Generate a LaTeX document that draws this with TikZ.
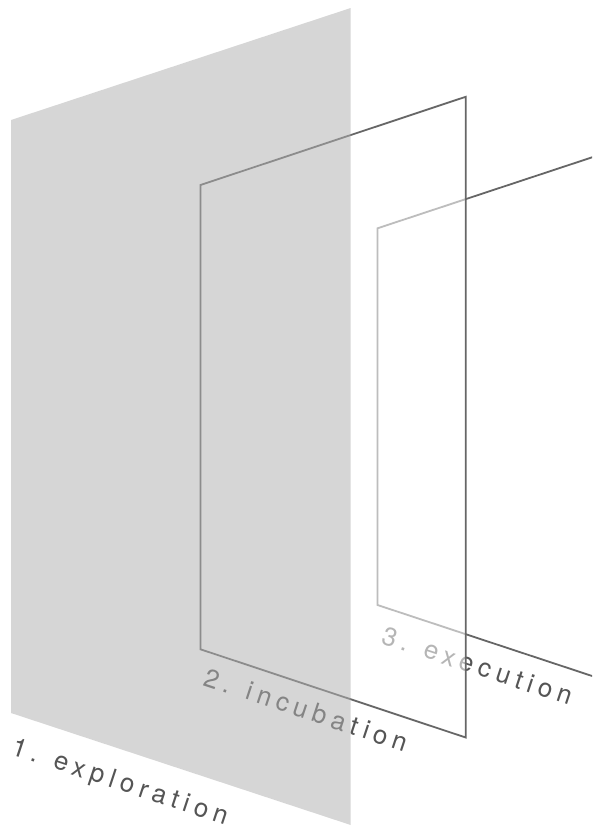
\documentclass[tikz,border=0pt]{standalone}
\usepackage{fontspec}
\setmainfont{TeX Gyre Heros}
\newfontfamily\labelfont[LetterSpace=21.5]{TeX Gyre Heros}
\definecolor{linegray}{HTML}{666666}
\definecolor{textgray}{HTML}{555555}
\definecolor{planegray}{HTML}{B0B0B0}
\begin{document}
\begin{tikzpicture}[x=1pt,y=-1pt,
  frameline/.style={draw=linegray,line width=1.8pt,line join=miter},
  lbl/.style={anchor=base west,inner sep=0pt,rotate=-18.3,text=textgray,font=\labelfont\fontsize{26}{26}\selectfont}]
\useasboundingbox (0,0) rectangle (592,827);
\clip (0,0) rectangle (592,827);
% frame 3 (back)
\coordinate (f3tr) at (600,154.7);
\coordinate (f3tl) at (377.5,228.3);
\coordinate (f3bl) at (377.5,605);
\coordinate (f3br) at (600,678.6);
\draw[frameline] (f3tr) -- (f3tl) -- (f3bl) -- (f3br);
\node[lbl] (t3) at (380,643) {3. execution};
% frame 2 (middle) with translucent white fill
\coordinate (f2tl) at (200.5,185);
\coordinate (f2tr) at (465.7,96.8);
\coordinate (f2br) at (465.7,737.5);
\coordinate (f2bl) at (200.5,649.3);
\fill[white,fill opacity=0.57] (f2tl) -- (f2tr) -- (f2br) -- (f2bl) -- cycle;
\draw[frameline] (f2tl) -- (f2tr) -- (f2br) -- (f2bl) -- cycle;
\node[lbl] (t2) at (202,685) {2. incubation};
% plane 1 (front) translucent gray
\coordinate (p1tl) at (11,120);
\coordinate (p1tr) at (350.7,8);
\coordinate (p1br) at (350.7,825);
\coordinate (p1bl) at (11,713);
\fill[planegray,fill opacity=0.516] (p1tl) -- (p1tr) -- (p1br) -- (p1bl) -- cycle;
\node[lbl] (t1) at (10,754) {1. exploration};
\end{tikzpicture}
\end{document}
